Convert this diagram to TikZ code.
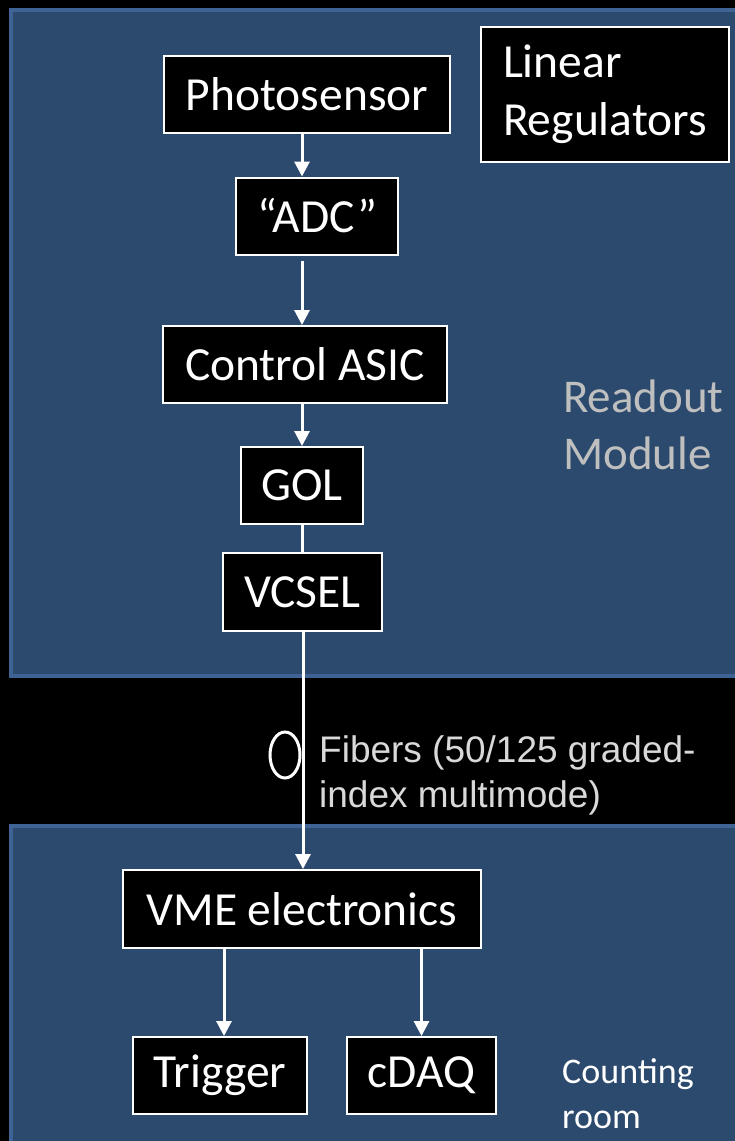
\documentclass[tikz,border=0pt]{standalone}
\usepackage{fontspec}
\setmainfont{Carlito}
\newfontfamily\arialfont{Liberation Sans}
\usetikzlibrary{positioning,arrows.meta}
\definecolor{pblue}{HTML}{2C4A6E}
\definecolor{pedge}{HTML}{3E6394}
\definecolor{tgray}{HTML}{BFBFBF}
\definecolor{fgray}{HTML}{D9D9D9}

\begin{document}
\begin{tikzpicture}[x=1pt, y=-1pt, font=\fontsize{47.5}{58}\selectfont,
  blk/.style={draw=white, line width=2pt, fill=black, text=white, minimum height=77pt, inner sep=0pt},
  lbl/.style={align=left, anchor=north west, inner sep=0pt},
  arr/.style={-{Triangle[length=15pt,width=15pt]}, draw=white, line width=3pt}]
\useasboundingbox (0,0) rectangle (735,1141);
\fill[black] (0,0) rectangle (735,1141);
\filldraw[fill=pblue, draw=pedge, line width=4pt] (11,10) rectangle (760,676);
\filldraw[fill=pblue, draw=pedge, line width=4pt] (11,826) rectangle (760,1160);
\node[blk, minimum width=286pt] (ps) at (307,94.5) {Photosensor};
\node[blk, minimum width=162pt] (adc) at (317,216) {“ADC”};
\node[blk, minimum width=284pt] (ctrl) at (305,364.5) {Control ASIC};
\node[blk, minimum width=122pt] (gol) at (302,485.5) {GOL};
\node[blk, minimum width=159pt, minimum height=78pt] (vcsel) at (302.5,592) {VCSEL};
\node[blk, minimum width=358pt, minimum height=78pt] (vme) at (302,909) {VME electronics};
\node[blk, minimum width=174pt] (trig) at (220,1075.5) {Trigger};
\node[blk, minimum width=149pt] (cdaq) at (421.5,1075.5) {cDAQ};
\node[blk, minimum height=135pt, align=left, inner xsep=22pt, anchor=north west, font=\fontsize{47.5}{58}\selectfont] (lr) at (480,26) {Linear\\Regulators};
\node[lbl, text=tgray, font=\fontsize{47}{57}\selectfont] (ro) at (563,380) {Readout\\Module};
\node[lbl, text=fgray, font=\arialfont\fontsize{37}{45}\selectfont] (fib) at (319,735) {Fibers (50/125 graded-\\index multimode)};
\node[lbl, text=white, font=\fontsize{36}{45}\selectfont] (cr) at (562,1058) {Counting\\room};
\coordinate (spine) at (302,0);
\draw[arr] (spine |- ps.south) -- (spine |- adc.north);
\draw[arr, shorten <=5pt] (spine |- adc.south) -- (spine |- ctrl.north);
\draw[arr] (spine |- ctrl.south) -- (spine |- gol.north);
\draw[white, line width=3pt] (spine |- gol.south) -- (spine |- vcsel.north);
\draw[arr] ([xshift=1pt]spine |- vcsel.south) -- ([xshift=1pt]spine |- vme.north);
\draw[white, line width=3pt] (285,755) ellipse [x radius=15pt, y radius=23pt];
\draw[arr] ([xshift=4pt]trig.north |- vme.south) -- ([xshift=4pt]trig.north);
\draw[arr] (cdaq.north |- vme.south) -- (cdaq.north);
\end{tikzpicture}
\end{document}
